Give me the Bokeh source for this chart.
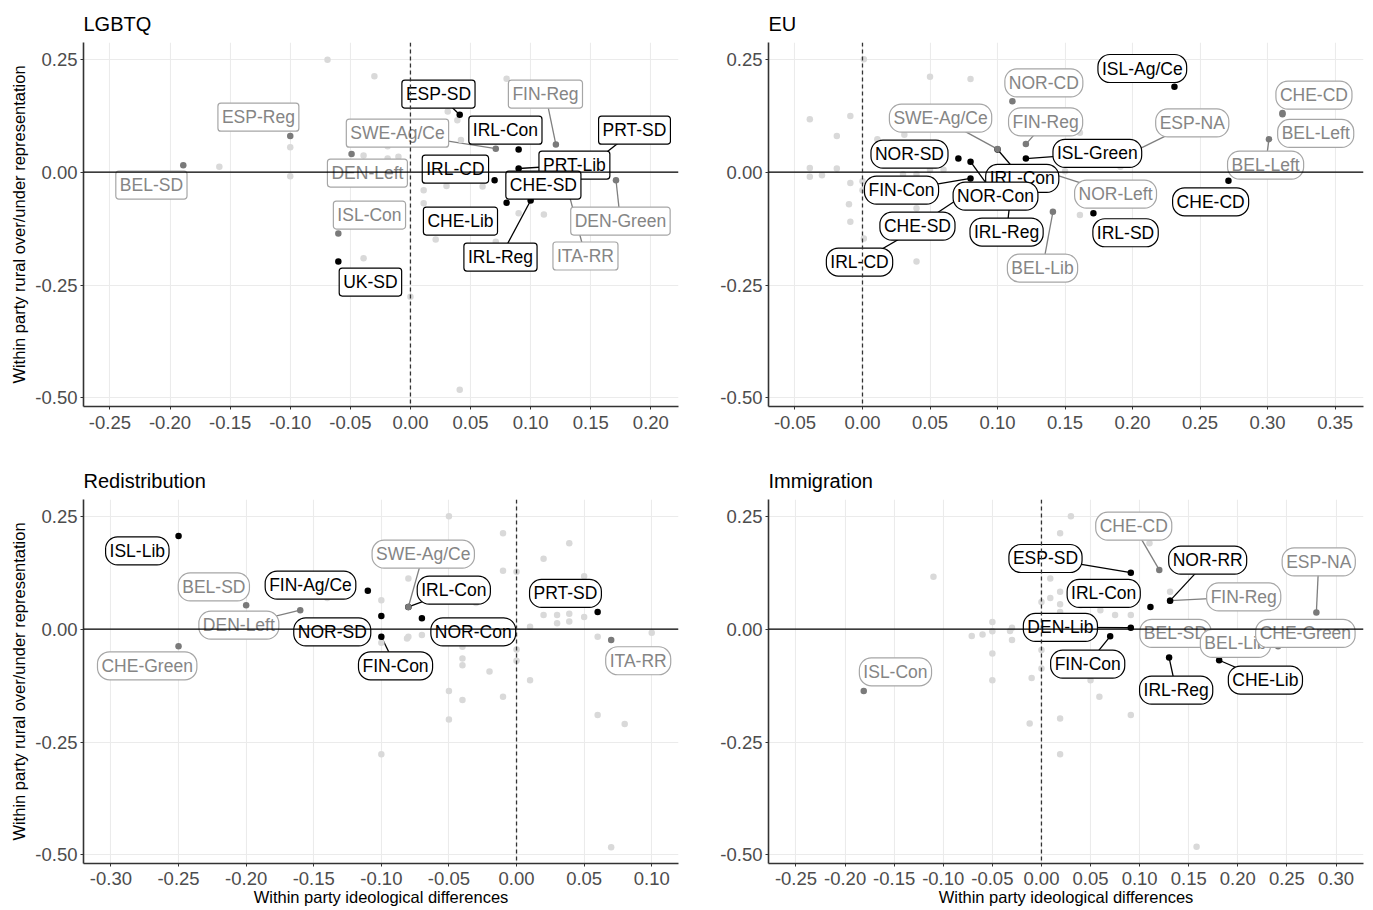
from bokeh.plotting import figure
from bokeh.layouts import column, row
from bokeh.models import ColumnDataSource, FixedTicker, Span, Range1d
from bokeh.core.properties import value
from bokeh.embed import file_html
from bokeh.resources import INLINE

FONT = "Liberation Sans"

# ---------------- shared y axis ----------------
y_ticks = [-0.50, -0.25, 0.00, 0.25]
y_tick_labels = ["-0.50", "-0.25", "0.00", "0.25"]
y_limits = (-0.519, 0.287)
y_title = "Within party rural over/under representation"
x_title = "Within party ideological differences"

# ---------------- LGBTQ ----------------
lgbtq_x_ticks = [-0.25, -0.20, -0.15, -0.10, -0.05, 0.00, 0.05, 0.10, 0.15, 0.20]
lgbtq_x_tick_labels = ["-0.25", "-0.20", "-0.15", "-0.10", "-0.05", "0.00", "0.05", "0.10", "0.15", "0.20"]
lgbtq_x_limits = (-0.272, 0.223)
lgbtq_other_x = [-0.069, -0.030, -0.100, -0.100, -0.159, -0.039, -0.039, -0.019, -0.019, -0.010,
                 0.031, 0.039, 0.080, 0.011, 0.030, 0.011, 0.021, 0.090, 0.111, 0.060,
                 0.042, 0.000, 0.071, 0.141, 0.041]
lgbtq_other_y = [0.249, 0.212, 0.055, -0.009, 0.012, 0.037, -0.191, 0.057, 0.030, 0.034,
                 0.134, 0.115, 0.207, -0.040, -0.031, -0.069, -0.149, -0.091, -0.094, -0.032,
                 0.071, -0.276, -0.154, -0.209, -0.482]
lgbtq_party = ["ESP-Reg", "BEL-SD", "ESP-SD", "FIN-Reg", "SWE-Ag/Ce", "IRL-Con", "PRT-SD", "DEN-Left",
               "IRL-CD", "PRT-Lib", "CHE-SD", "ISL-Con", "CHE-Lib", "DEN-Green", "IRL-Reg", "ITA-RR", "UK-SD"]
lgbtq_x = [-0.100, -0.189, 0.041, 0.121, 0.071, 0.090, 0.147, -0.049,
           0.070, 0.090, 0.105, -0.060, 0.080, 0.171, 0.100, 0.130, -0.060]
lgbtq_y = [0.080, 0.015, 0.127, 0.061, 0.052, 0.050, 0.010, 0.040,
           -0.018, 0.008, -0.025, -0.136, -0.068, -0.018, -0.063, -0.030, -0.198]
lgbtq_group = ["grey", "grey", "black", "grey", "grey", "black", "black", "grey",
               "black", "black", "black", "grey", "black", "grey", "black", "grey", "black"]
lgbtq_label_x = [-0.1265, -0.2155, 0.0233, 0.1123, -0.0108, 0.0790, 0.1864, -0.0358,
                 0.0374, 0.1364, 0.1106, -0.0341, 0.0416, 0.1747, 0.0749, 0.1456, -0.0333]
lgbtq_label_y = [0.1217, -0.0288, 0.1726, 0.1726, 0.0863, 0.0929, 0.0929, -0.0022,
                 0.0066, 0.0155, -0.0288, -0.0951, -0.1084, -0.1084, -0.1881, -0.1858, -0.2434]
lgbtq_segment = [False, False, True, True, True, False, True, False,
                 False, True, False, False, False, True, True, True, False]

# ---------------- EU ----------------
eu_x_ticks = [-0.05, 0.00, 0.05, 0.10, 0.15, 0.20, 0.25, 0.30, 0.35]
eu_x_tick_labels = ["-0.05", "0.00", "0.05", "0.10", "0.15", "0.20", "0.25", "0.30", "0.35"]
eu_x_limits = (-0.0696, 0.371)
eu_other_x = [0.001, 0.050, 0.080, -0.039, -0.009, -0.019, 0.011, 0.031, -0.009, -0.010,
              -0.009, -0.039, -0.039, -0.030, -0.019, 0.001, 0.000, 0.000, 0.030, 0.040,
              0.050, 0.060, 0.040, 0.121, 0.040, 0.161, 0.191, 0.150, 0.161]
eu_other_y = [0.250, 0.211, 0.206, 0.117, 0.124, 0.080, 0.073, 0.083, -0.110, -0.071,
              -0.024, 0.009, -0.010, -0.007, 0.008, -0.147, -0.020, -0.040, -0.005, -0.005,
              0.005, 0.005, -0.080, -0.157, -0.198, 0.087, 0.012, 0.002, -0.095]
eu_party = ["ISL-Ag/Ce", "NOR-CD", "CHE-CD", "BEL-Left", "BEL-Left", "IRL-Con", "SWE-Ag/Ce", "FIN-Reg",
            "ESP-NA", "ISL-Green", "NOR-SD", "NOR-Con", "FIN-Con", "NOR-Left", "CHE-CD", "CHE-SD",
            "IRL-Reg", "IRL-SD", "BEL-Lib", "IRL-CD"]
eu_x = [0.231, 0.111, 0.311, 0.311, 0.301, 0.100, 0.100, 0.121,
        0.196, 0.121, 0.071, 0.080, 0.080, 0.139, 0.271, 0.073,
        0.110, 0.171, 0.141, 0.055]
eu_y = [0.189, 0.157, 0.131, 0.128, 0.073, 0.050, 0.051, 0.062,
        0.038, 0.030, 0.030, 0.023, -0.014, -0.002, -0.019, -0.055,
        -0.045, -0.091, -0.088, -0.100]
eu_group = ["black", "grey", "grey", "grey", "grey", "black", "grey", "grey",
            "grey", "black", "black", "black", "black", "grey", "black", "black",
            "black", "black", "grey", "black"]
eu_label_x = [0.2072, 0.1343, 0.3343, 0.3356, 0.2985, 0.1183, 0.0578, 0.1356,
              0.2442, 0.1739, 0.0348, 0.0985, 0.0289, 0.1874, 0.2578, 0.0407,
              0.1067, 0.1948, 0.1333, -0.0022]
eu_label_y = [0.2294, 0.1976, 0.1704, 0.0856, 0.0155, -0.0139, 0.1195, 0.1113,
              0.1091, 0.0414, 0.0398, -0.0531, -0.0398, -0.0487, -0.0657, -0.1195,
              -0.1327, -0.1343, -0.2124, -0.1991]
eu_segment = [False, False, False, False, True, True, True, True,
              True, True, False, True, True, True, False, True,
              True, False, True, True]

# ---------------- Redistribution ----------------
red_x_ticks = [-0.30, -0.25, -0.20, -0.15, -0.10, -0.05, 0.00, 0.05, 0.10]
red_x_tick_labels = ["-0.30", "-0.25", "-0.20", "-0.15", "-0.10", "-0.05", "0.00", "0.05", "0.10"]
red_x_limits = (-0.3203, 0.1198)
red_other_x = [-0.140, -0.100, -0.080, -0.080, -0.050, -0.010, -0.010, 0.000, -0.030, -0.040,
               -0.040, -0.040, -0.050, -0.020, 0.000, 0.000, 0.010, 0.010, 0.020, 0.020,
               0.030, 0.030, 0.039, 0.039, 0.039, 0.050, 0.050, 0.060, 0.100, -0.081,
               -0.070, -0.040, -0.010, -0.050, -0.100, 0.060, 0.080, 0.070, -0.100]
red_other_y = [0.069, 0.064, 0.112, -0.017, 0.250, 0.212, 0.129, 0.127, 0.058, -0.039,
               -0.065, -0.080, -0.137, -0.094, -0.045, -0.070, 0.005, -0.113, 0.031, 0.156,
               0.031, 0.013, 0.190, 0.034, 0.017, 0.117, 0.027, -0.017, -0.008, -0.021,
               -0.013, -0.157, -0.150, -0.200, -0.277, -0.190, -0.210, -0.483, -0.030]
red_party = ["ISL-Lib", "BEL-SD", "FIN-Ag/Ce", "DEN-Left", "CHE-Green", "NOR-SD", "FIN-Con",
             "IRL-Con", "SWE-Ag/Ce", "NOR-Con", "PRT-SD", "ITA-RR"]
red_x = [-0.250, -0.200, -0.110, -0.160, -0.250, -0.100, -0.100, -0.080, -0.080, -0.070, 0.060, 0.070]
red_y = [0.206, 0.053, 0.085, 0.042, -0.038, 0.029, -0.017, 0.049, 0.049, 0.024, 0.038, -0.024]
red_group = ["black", "grey", "black", "grey", "grey", "black", "black", "black", "grey", "black", "black", "grey"]
red_label_x = [-0.2805, -0.2239, -0.1524, -0.2054, -0.2732, -0.1363, -0.0895,
               -0.0464, -0.0690, -0.0320, 0.0362, 0.0900]
red_label_y = [0.1732, 0.0936, 0.0973, 0.0088, -0.0812, -0.0060, -0.0812,
               0.0863, 0.1659, -0.0060, 0.0790, -0.0701]
red_segment = [False, False, False, True, False, False, True, True, True, False, False, False]

# ---------------- Immigration ----------------
imm_x_ticks = [-0.25, -0.20, -0.15, -0.10, -0.05, 0.00, 0.05, 0.10, 0.15, 0.20, 0.25, 0.30]
imm_x_tick_labels = ["-0.25", "-0.20", "-0.15", "-0.10", "-0.05", "0.00", "0.05", "0.10", "0.15",
                     "0.20", "0.25", "0.30"]
imm_x_limits = (-0.278, 0.328)
imm_other_x = [0.019, -0.110, 0.009, 0.019, 0.009, 0.000, 0.019, 0.019, -0.050, -0.050,
               -0.030, -0.071, -0.060, -0.030, 0.000, 0.000, -0.010, -0.050, -0.050, 0.019,
               0.030, 0.080, 0.110, 0.040, 0.050, 0.060, 0.075, -0.032, 0.131, 0.059,
               0.091, 0.050, 0.128, -0.012, 0.019, 0.158, 0.091]
imm_other_y = [0.212, 0.116, 0.112, 0.083, 0.069, 0.060, 0.055, 0.038, 0.016, -0.005,
               0.003, -0.015, -0.012, -0.024, -0.046, -0.087, -0.108, -0.054, -0.113, -0.198,
               0.250, 0.206, 0.190, 0.053, 0.064, 0.042, 0.031, -0.004, 0.083, -0.150,
               -0.190, -0.113, -0.157, -0.209, -0.277, -0.482, 0.031]
imm_party = ["CHE-CD", "ESP-SD", "FIN-Reg", "NOR-RR", "IRL-Con", "ESP-NA", "DEN-Lib", "BEL-SD",
             "BEL-Lib", "CHE-Green", "FIN-Con", "IRL-Reg", "CHE-Lib", "ISL-Con"]
imm_x = [0.120, 0.091, 0.131, 0.131, 0.111, 0.280, 0.091, 0.141, 0.190, 0.241, 0.070, 0.130, 0.181, -0.181]
imm_y = [0.131, 0.125, 0.063, 0.063, 0.049, 0.037, 0.003, -0.033, -0.030, -0.038, -0.016, -0.063, -0.069, -0.137]
imm_group = ["grey", "black", "grey", "black", "black", "grey", "black", "grey",
             "grey", "grey", "black", "black", "black", "grey"]
imm_label_x = [0.0940, 0.0041, 0.2060, 0.1693, 0.0634, 0.2824, 0.0193, 0.1365,
               0.1976, 0.2688, 0.0471, 0.1372, 0.2281, -0.1487]
imm_label_y = [0.2279, 0.1564, 0.0715, 0.1527, 0.0790, 0.1489, 0.0038, -0.0095,
               -0.0316, -0.0095, -0.0774, -0.1350, -0.1128, -0.0945]
imm_segment = [True, True, True, True, False, True, True, False, False, False, True, True, True, False]

# ---------------- styling ----------------
LIGHT = "#d9d9d9"
POINT_COL = {"black": "#000000", "grey": "#7a7a7a"}
TEXT_COL = {"black": "#000000", "grey": "#858585"}
BOX_COL = {"black": "#000000", "grey": "#a6a6a6"}
SEG_COL = {"black": "#000000", "grey": "#7f7f7f"}


def build(title, xlim, xticks, xtick_labels, ox, oy, party, px, py, grp, lx, ly, seg,
          width, height, borders, radius, ylab, xlab):
    p = figure(width=width, height=height, x_range=Range1d(*xlim), y_range=Range1d(*y_limits),
               output_backend="svg", toolbar_location=None,
               min_border_left=borders[0], min_border_right=borders[1],
               min_border_top=borders[2], min_border_bottom=borders[3])
    p.outline_line_color = None
    p.background_fill_color = "white"
    p.border_fill_color = "white"

    p.title.text = title
    p.title.text_font = FONT
    p.title.text_font_size = "20px"
    p.title.text_font_style = "normal"
    p.title.text_color = "#000000"
    p.title.align = "left"
    p.title.standoff = 16

    p.xaxis.ticker = FixedTicker(ticks=xticks)
    p.xaxis.major_label_overrides = dict(zip(xticks, xtick_labels))
    p.yaxis.ticker = FixedTicker(ticks=y_ticks)
    p.yaxis.major_label_overrides = dict(zip(y_ticks, y_tick_labels))
    p.xgrid.ticker = FixedTicker(ticks=xticks)
    p.ygrid.ticker = FixedTicker(ticks=y_ticks)
    for g in (p.xgrid, p.ygrid):
        g.grid_line_color = "#ebebeb"
        g.grid_line_width = 1.1
    for ax in (p.xaxis, p.yaxis):
        ax.axis_line_color = "#333333"
        ax.axis_line_width = 1.6
        ax.major_tick_line_color = "#333333"
        ax.major_tick_out = 3
        ax.major_tick_in = 0
        ax.minor_tick_out = 0
        ax.minor_tick_in = 0
        ax.major_label_text_font = FONT
        ax.major_label_text_font_size = "18.5px"
        ax.major_label_text_color = "#4d4d4d"
        ax.major_label_standoff = 3
        ax.axis_label_text_font = FONT
        ax.axis_label_text_font_size = "16.5px"
        ax.axis_label_text_font_style = "normal"
        ax.axis_label_text_color = "#000000"
    p.xaxis.major_label_standoff = 6
    if ylab:
        p.yaxis.axis_label = y_title
        p.yaxis.axis_label_standoff = 4
    if xlab:
        p.xaxis.axis_label = x_title
        p.xaxis.axis_label_standoff = 0
        p.xaxis.major_label_standoff = 5

    # segments (point -> label)
    sx0, sy0, sx1, sy1, sc = [], [], [], [], []
    for i in range(len(party)):
        if seg[i]:
            sx0.append(px[i]); sy0.append(py[i]); sx1.append(lx[i]); sy1.append(ly[i])
            sc.append(SEG_COL[grp[i]])
    p.segment(x0="x0", y0="y0", x1="x1", y1="y1", color="c", line_width=1.3,
              source=ColumnDataSource(dict(x0=sx0, y0=sy0, x1=sx1, y1=sy1, c=sc)))

    # unlabelled points
    p.scatter(ox, oy, size=6.5, color=LIGHT, line_color=None)
    # labelled points
    p.scatter(x="x", y="y", size=6.5, color="c", line_color=None,
              source=ColumnDataSource(dict(x=px, y=py, c=[POINT_COL[g] for g in grp])))

    # labels
    for g in ("grey", "black"):
        idx = [i for i in range(len(party)) if grp[i] == g]
        src = ColumnDataSource(dict(x=[lx[i] for i in idx], y=[ly[i] for i in idx],
                                    t=[party[i] for i in idx]))
        p.text(x="x", y="y", text="t", source=src, text_align="center", text_baseline="middle",
               text_font=value(FONT), text_font_size="17.5px", text_color=TEXT_COL[g],
               background_fill_color="white", border_line_color=BOX_COL[g], border_line_width=1.2,
               padding=4, border_radius=radius)

    p.add_layout(Span(location=0, dimension="width", line_color="#000000", line_width=1.4))
    p.add_layout(Span(location=0, dimension="height", line_color="#333333", line_width=1.3,
                      line_dash="4 3"))
    return p


p1 = build("LGBTQ", lgbtq_x_limits, lgbtq_x_ticks, lgbtq_x_tick_labels, lgbtq_other_x, lgbtq_other_y,
           lgbtq_party, lgbtq_x, lgbtq_y, lgbtq_group, lgbtq_label_x, lgbtq_label_y, lgbtq_segment,
           693, 456, (83, 15, 42, 50), 3, True, False)
p2 = build("EU", eu_x_limits, eu_x_ticks, eu_x_tick_labels, eu_other_x, eu_other_y,
           eu_party, eu_x, eu_y, eu_group, eu_label_x, eu_label_y, eu_segment,
           679, 456, (75, 9, 42, 50), 12, False, False)
p3 = build("Redistribution", red_x_limits, red_x_ticks, red_x_tick_labels, red_other_x, red_other_y,
           red_party, red_x, red_y, red_group, red_label_x, red_label_y, red_segment,
           693, 454, (83, 15, 43, 47), 12, True, True)
p4 = build("Immigration", imm_x_limits, imm_x_ticks, imm_x_tick_labels, imm_other_x, imm_other_y,
           imm_party, imm_x, imm_y, imm_group, imm_label_x, imm_label_y, imm_segment,
           679, 454, (75, 9, 43, 47), 12, False, True)

layout = column(row(p1, p2), row(p3, p4))
open("out.html", "w").write(file_html(layout, INLINE))
